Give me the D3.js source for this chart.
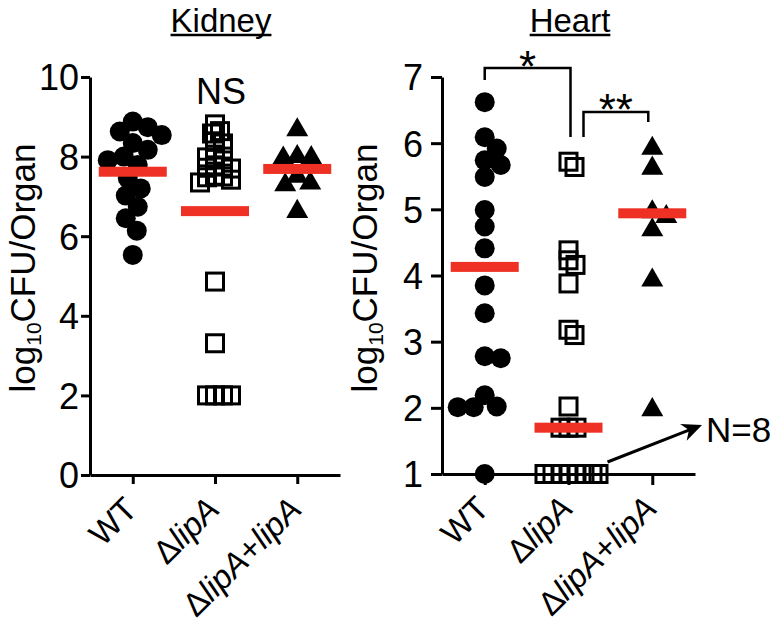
<!DOCTYPE html>
<html>
<head>
<meta charset="utf-8">
<script src="https://cdn.jsdelivr.net/npm/d3@7"></script>
<style>
  body { margin: 0; background: #fff; }
  svg { font-family: "Liberation Sans", Arial, sans-serif; }
  .axis path, .axis line { stroke: #000; stroke-width: 3; }
  .axis text { font-size: 36px; fill: #000; }
  .title { font-size: 33px; }
  .ytitle { font-size: 35px; }
  .xlabel { font-size: 33px; }
  .note { font-size: 36px; }
</style>
</head>
<body>
<svg id="chart" width="780" height="626"></svg>
<script>
// groups on the x axis
const groups = ["WT", "ΔlipA", "ΔlipA+lipA"];

// log10 CFU per organ
const kidneyWT = [8.88, 8.74, 8.63, 8.54, 8.34, 8.17, 8.0, 7.91, 7.79, 7.46, 7.20, 7.02, 6.74, 6.45, 6.14, 5.53];
const kidneyLipA = [8.81, 8.64, 8.58, 8.37, 8.33, 8.05, 8.0, 7.98, 7.78, 7.75, 7.72, 7.7, 7.52, 7.5, 7.48, 7.42, 7.35, 4.86, 3.31, 2.0, 2.0, 2.0, 2.0];
const kidneyComp = [8.67, 8.0, 7.97, 7.96, 7.5, 7.33, 7.29, 6.62];
const kidneyCenter = [7.62, 6.63, 7.69];
const kidneyTicks = [0, 2, 4, 6, 8, 10];

const heartWT = [6.62, 6.09, 5.92, 5.74, 5.67, 5.49, 4.99, 4.74, 4.41, 3.85, 3.43, 2.78, 2.75, 2.19, 2.02, 2.01, 2.01, 1.0];
const heartLipA = [5.72, 5.64, 4.38, 4.23, 4.16, 3.88, 3.18, 3.10, 2.02, 1.7, 1.7, 1.7, 1, 1, 1, 1, 1, 1, 1, 1];
const heartComp = [5.92, 5.62, 4.96, 4.89, 4.69, 3.93, 1.97];
const heartCenter = [4.13, 1.70, 4.94];
const heartTicks = [1, 2, 3, 4, 5, 6, 7];

const RED = "#ee3124";
const svg = d3.select("#chart");

// simple prism-like scatter: push points sideways until they stop crowding
function swarm(values, cx, y, minDist, maxHalf) {
  const placed = [];
  const out = new Array(values.length);
  const order = values.map((v, i) => ({ v, i })).sort((a, b) => b.v - a.v);
  for (const { v, i } of order) {
    const py = y(v);
    let best = null, bestScore = -1, bestOff = 0;
    for (let k = 0; k <= maxHalf * 2; k++) {
      const off = (k % 2 === 1 ? 1 : -1) * Math.ceil(k / 2);
      const d = placed.length ? d3.min(placed, p => Math.hypot(p.x - off, p.y - py)) : Infinity;
      if (d >= minDist) { best = off; break; }
      if (d > bestScore) { bestScore = d; bestOff = off; }
    }
    if (best === null) best = bestOff;
    placed.push({ x: best, y: py });
    out[i] = { v, x: cx + best, y: py };
  }
  return out;
}

function labelText(sel, s) {
  s.split(/(lipA)/).filter(d => d).forEach(part => {
    sel.append("tspan")
      .attr("font-style", part === "lipA" ? "italic" : null)
      .text(part);
  });
}

function panel(opt) {
  const x = d3.scalePoint().domain(groups).range(opt.xRange).padding(opt.pad);
  const y = d3.scaleLinear().domain(opt.yDomain).range(opt.yRange);
  const g = svg.append("g");

  g.append("g")
    .attr("class", "axis")
    .attr("transform", `translate(${opt.xRange[0]},0)`)
    .call(d3.axisLeft(y).tickValues(opt.ticks).tickFormat(d3.format("d"))
      .tickSize(opt.tick).tickSizeOuter(0).tickPadding(opt.tickPad))
    .call(a => a.selectAll("text").attr("dy", "0.36em"));

  g.append("g")
    .attr("class", "axis")
    .attr("transform", `translate(0,${opt.yRange[0]})`)
    .call(d3.axisBottom(x).tickSize(opt.tick).tickSizeOuter(0))
    .call(a => a.selectAll("text").remove());

  // rotated category labels
  groups.forEach(gr => {
    const t = g.append("text")
      .attr("class", "xlabel")
      .attr("text-anchor", "end")
      .attr("dy", "0.35em")
      .attr("transform", `translate(${x(gr) - 2},${opt.yRange[0] + 28}) rotate(-45)`);
    labelText(t, gr);
  });

  // y title
  const yt = g.append("text")
    .attr("class", "ytitle")
    .attr("text-anchor", "middle")
    .attr("transform", `translate(${opt.yTitleX},268) rotate(-90)`);
  yt.append("tspan").text("log");
  yt.append("tspan").attr("font-size", "21px").attr("dy", "6").text("10");
  yt.append("tspan").attr("dy", "-6").text("CFU/Organ");

  // panel title, underlined
  const tt = g.append("text")
    .attr("class", "title")
    .attr("text-anchor", "middle")
    .attr("x", opt.titleX)
    .attr("y", 32)
    .text(opt.title);
  const tw = tt.node().getComputedTextLength();
  g.append("line")
    .attr("x1", opt.titleX - tw / 2).attr("x2", opt.titleX + tw / 2)
    .attr("y1", 35).attr("y2", 35)
    .attr("stroke", "#000").attr("stroke-width", 2.5);

  // points
  const series = opt.series;
  const circ = swarm(series[0], x(groups[0]), y, 16, 30);
  g.selectAll(".wt").data(circ).join("circle")
    .attr("cx", d => d.x).attr("cy", d => d.y).attr("r", 10).attr("fill", "#000");

  const sq = swarm(series[1], x(groups[1]), y, 8, 30);
  g.selectAll(".ko").data(sq).join("rect")
    .attr("x", d => d.x - 8.5).attr("y", d => d.y - 8.5)
    .attr("width", 17).attr("height", 17)
    .attr("fill", "none").attr("stroke", "#000").attr("stroke-width", 3);

  const tri = swarm(series[2], x(groups[2]), y, 14, 30);
  g.selectAll(".comp").data(tri).join("path")
    .attr("transform", d => `translate(${d.x},${d.y})`)
    .attr("d", d3.symbol(d3.symbolTriangle, 210))
    .attr("fill", "#000");

  // group centre bars
  g.selectAll(".bar").data(opt.center).join("rect")
    .attr("x", (d, i) => x(groups[i]) - 34)
    .attr("y", d => y(d) - 5)
    .attr("width", 68).attr("height", 10)
    .attr("fill", RED);

  return { x, y, g };
}

const kidney = panel({
  title: "Kidney", titleX: 221,
  xRange: [90, 340], pad: 0.52,
  yDomain: [0, 10], yRange: [475, 77], ticks: kidneyTicks,
  tick: 9, tickPad: 2, yTitleX: 35,
  series: [kidneyWT, kidneyLipA, kidneyComp], center: kidneyCenter
});

const heart = panel({
  title: "Heart", titleX: 570,
  xRange: [442, 695], pad: 0.51,
  yDomain: [1, 7], yRange: [474, 77], ticks: heartTicks,
  tick: 11, tickPad: 8, yTitleX: 377,
  series: [heartWT, heartLipA, heartComp], center: heartCenter
});

// NS above kidney
kidney.g.append("text").attr("class", "note")
  .attr("x", kidney.x("ΔlipA") + 6).attr("y", 104)
  .attr("text-anchor", "middle").text("NS");

// significance brackets on heart
const hx = heart.x, hy = heart.y, hg = heart.g;
const brackets = [
  { a: hx("WT"), b: hx("ΔlipA") + 2, top: 68, ya: 80, yb: 137, label: "*", ly: 82 },
  { a: hx("ΔlipA") + 15, b: hx("ΔlipA+lipA") - 4, top: 112, ya: 137, yb: 122, label: "**", ly: 125 }
];
brackets.forEach(b => {
  hg.append("path")
    .attr("d", `M${b.a},${b.ya}V${b.top}H${b.b}V${b.yb}`)
    .attr("fill", "none").attr("stroke", "#000").attr("stroke-width", 2.5);
  hg.append("text")
    .attr("font-size", "44px")
    .attr("x", (b.a + b.b) / 2).attr("y", b.ly)
    .attr("text-anchor", "middle").text(b.label);
});

// arrow to N=8
const ax0 = hx("ΔlipA") + 39, ay0 = hy(1) - 12;
const ax1 = 702, ay1 = 425;
const ang = Math.atan2(ay1 - ay0, ax1 - ax0);
hg.append("line")
  .attr("x1", ax0).attr("y1", ay0)
  .attr("x2", ax1 - 10 * Math.cos(ang)).attr("y2", ay1 - 10 * Math.sin(ang))
  .attr("stroke", "#000").attr("stroke-width", 3);
hg.append("path")
  .attr("transform", `translate(${ax1},${ay1}) rotate(${ang * 180 / Math.PI})`)
  .attr("d", "M0,0L-20,-9L-14,0L-20,9Z")
  .attr("fill", "#000");
hg.append("text")
  .attr("font-size", "35px")
  .attr("x", 706).attr("y", 442).text("N=8");
</script>
</body>
</html>
